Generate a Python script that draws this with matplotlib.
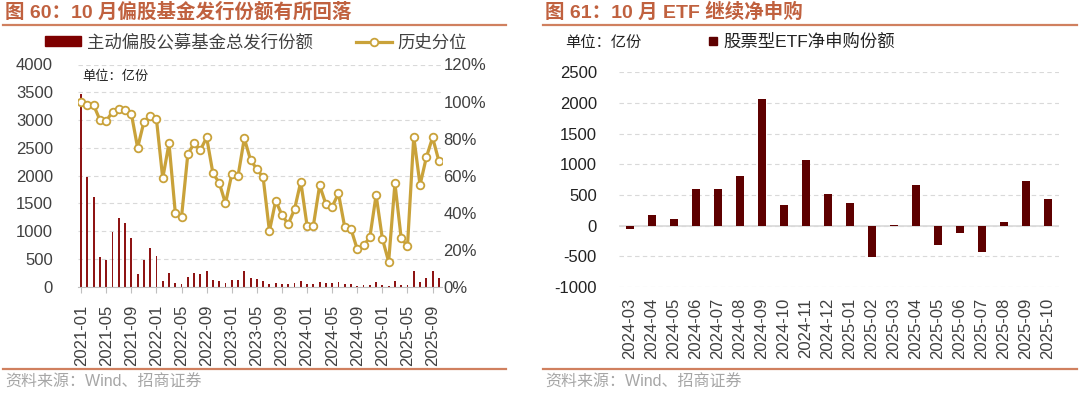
import numpy as np
import pandas as pd
import matplotlib
matplotlib.use('Agg')
import matplotlib.pyplot as plt
from matplotlib.lines import Line2D
from matplotlib.patches import Patch
from matplotlib.ticker import FuncFormatter

plt.rcParams['font.family'] = ['Liberation Sans', 'Noto Sans CJK SC', 'DejaVu Sans']
plt.rcParams['axes.unicode_minus'] = False

# =============================================================================
# Data
# =============================================================================

# left: monthly active equity fund issuance (亿份) and historical percentile
months_left = pd.period_range('2021-01', '2025-10', freq='M').strftime('%Y-%m').tolist()
issue = [3470, 1970, 1620, 528, 480, 978, 1242, 1140, 870, 228,
         480, 702, 552, 102, 252, 60, 48, 180, 252, 222,
         288, 120, 102, 60, 114, 114, 282, 150, 135, 110,
         45, 75, 54, 54, 60, 102, 48, 54, 84, 72,
         72, 84, 54, 48, 18, 24, 30, 78, 30, 5,
         102, 30, 30, 288, 90, 162, 288, 150]
pct = [100, 98, 98, 90, 89.5, 94.5, 95.8, 95.4, 93.4, 75,
       89, 92.3, 90.5, 58.5, 77.4, 40, 37.8, 71.6, 77.4, 73.8,
       80.6, 61.2, 56.2, 45, 60.7, 59.8, 80.1, 68.4, 63.5, 59,
       30, 46.4, 38.7, 33.8, 41.8, 56.7, 32.9, 32.9, 54.7, 44.6,
       43.2, 50.4, 32.2, 31.1, 20.2, 22.3, 26.6, 49.5, 25.9, 13.5,
       55.8, 26.1, 22, 81, 54.9, 69.8, 80.6, 67.9]

# right: equity ETF net subscription (亿份)
months_right = ['2024-03', '2024-04', '2024-05', '2024-06', '2024-07', '2024-08',
                '2024-09', '2024-10', '2024-11', '2024-12', '2025-01', '2025-02',
                '2025-03', '2025-04', '2025-05', '2025-06', '2025-07', '2025-08',
                '2025-09', '2025-10']
etf = [-60, 174, 114, 598, 593, 804, 2060, 342, 1065, 521,
       370, -505, 5, 663, -320, -125, -435, 60, 733, 440]

# =============================================================================
# Plotting
# =============================================================================

bar_red = '#8E1414'
etf_red = '#5E0000'
gold = '#C9A23A'
title_col = '#C0613F'
rule_col = '#D0805F'
grid_col = '#D9D9D9'
txt = '#404040'

W, H = 1080, 393
fig = plt.figure(figsize=(W / 100, H / 100), dpi=100)

def fx(px):
    return px / W

def fy(px):
    return 1 - px / H

# titles, rules and sources
fig.text(fx(5), fy(12), '图 60：10 月偏股基金发行份额有所回落', fontsize=14,
         fontweight='bold', color=title_col, va='center')
fig.text(fx(545), fy(12), '图 61：10 月 ETF 继续净申购', fontsize=14,
         fontweight='bold', color=title_col, va='center')
for x0, x1 in [(3, 506), (543, 1077)]:
    fig.add_artist(Line2D([fx(x0), fx(x1)], [fy(25), fy(25)], color=rule_col, lw=1.6))
    fig.add_artist(Line2D([fx(x0), fx(x1)], [fy(369), fy(369)], color=rule_col, lw=1.6))
fig.text(fx(5), fy(382), '资料来源：Wind、招商证券', fontsize=11.5, color='#A6A6A6', va='center')
fig.text(fx(545), fy(382), '资料来源：Wind、招商证券', fontsize=11.5, color='#A6A6A6', va='center')

# ---- left panel ----
ax1 = fig.add_axes([fx(78), fy(286.7), fx(364), (286.7 - 64.5) / H])
x = np.arange(len(issue))
ax1.bar(x, issue, width=0.3, color=bar_red, zorder=2)
ax1.set_xlim(-0.5, len(issue) - 0.5)
ax1.set_ylim(0, 4000)
ax1.set_yticks(np.arange(0, 4001, 500))
ax1.grid(axis='y', ls=(0, (4, 3)), color=grid_col, lw=0.8)
ax1.set_axisbelow(True)
ax1.set_xticks(x[::4])
ax1.set_xticklabels(months_left[::4], rotation=90)
for s in ['top', 'left', 'right']:
    ax1.spines[s].set_visible(False)
ax1.spines['bottom'].set_color('#BFBFBF')
ax1.tick_params(axis='y', length=0, pad=18, labelsize=12, labelcolor=txt)
ax1.tick_params(axis='x', length=4, color='#BFBFBF', pad=9, labelsize=12, labelcolor=txt)

ax2 = ax1.twinx()
ax2.plot(x, np.array(pct) / 100, color=gold, lw=2.3, marker='o', ms=5.5,
         mfc='white', mec=gold, mew=1.3, zorder=3)
ax2.set_ylim(0, 1.2)
ax2.set_yticks(np.arange(0, 1.21, 0.2))
ax2.yaxis.set_major_formatter(FuncFormatter(lambda v, p: f'{v * 100:.0f}%'))
for s in ['top', 'left', 'right', 'bottom']:
    ax2.spines[s].set_visible(False)
ax2.tick_params(axis='y', length=0, pad=1, labelsize=12, labelcolor=txt)
fig.text(fx(82), fy(77), '单位：亿份', fontsize=9.5, color='#222222', va='center')

handles = [Patch(color='#7E0000'),
           Line2D([], [], color=gold, lw=2.3, marker='o', ms=5.5, mfc='white', mec=gold, mew=1.3)]
fig.legend(handles, ['主动偏股公募基金总发行份额', '历史分位'], loc='center left',
           bbox_to_anchor=(fx(45), fy(42)), ncol=2, frameon=False, fontsize=12.5,
           handlelength=2.1, handleheight=0.5, handletextpad=0.3, columnspacing=2.5,
           labelcolor=txt, borderaxespad=0, borderpad=0)

# ---- right panel ----
ax3 = fig.add_axes([fx(619), fy(287), fx(440), (287 - 72.3) / H])
xr = np.arange(len(etf))
ax3.bar(xr, etf, width=0.32, color=etf_red, zorder=2)
ax3.set_xlim(-0.5, len(etf) - 0.5)
ax3.set_ylim(-1000, 2500)
ax3.set_yticks(np.arange(-1000, 2501, 500))
ax3.grid(axis='y', ls=(0, (4, 3)), color=grid_col, lw=0.8)
ax3.axhline(0, color=grid_col, lw=1.2, zorder=1)
ax3.set_axisbelow(True)
ax3.set_xticks(xr)
ax3.set_xticklabels(months_right, rotation=90)
for s in ax3.spines.values():
    s.set_visible(False)
ax3.tick_params(axis='y', length=0, pad=16, labelsize=12, labelcolor='#222222')
ax3.tick_params(axis='x', length=0, pad=8, labelsize=12, labelcolor=txt)
fig.text(fx(565), fy(43), '单位：亿份', fontsize=11, color='#222222', va='center')
fig.legend([Line2D([], [], ls='none', marker='s', ms=6, color=etf_red)],
           ['股票型ETF净申购份额'], loc='center left', bbox_to_anchor=(fx(706), fy(42)),
           frameon=False, fontsize=12.5, handlelength=0.8, handletextpad=0.2,
           labelcolor='#222222', borderaxespad=0, borderpad=0)

fig.savefig('out.png', dpi=100)
